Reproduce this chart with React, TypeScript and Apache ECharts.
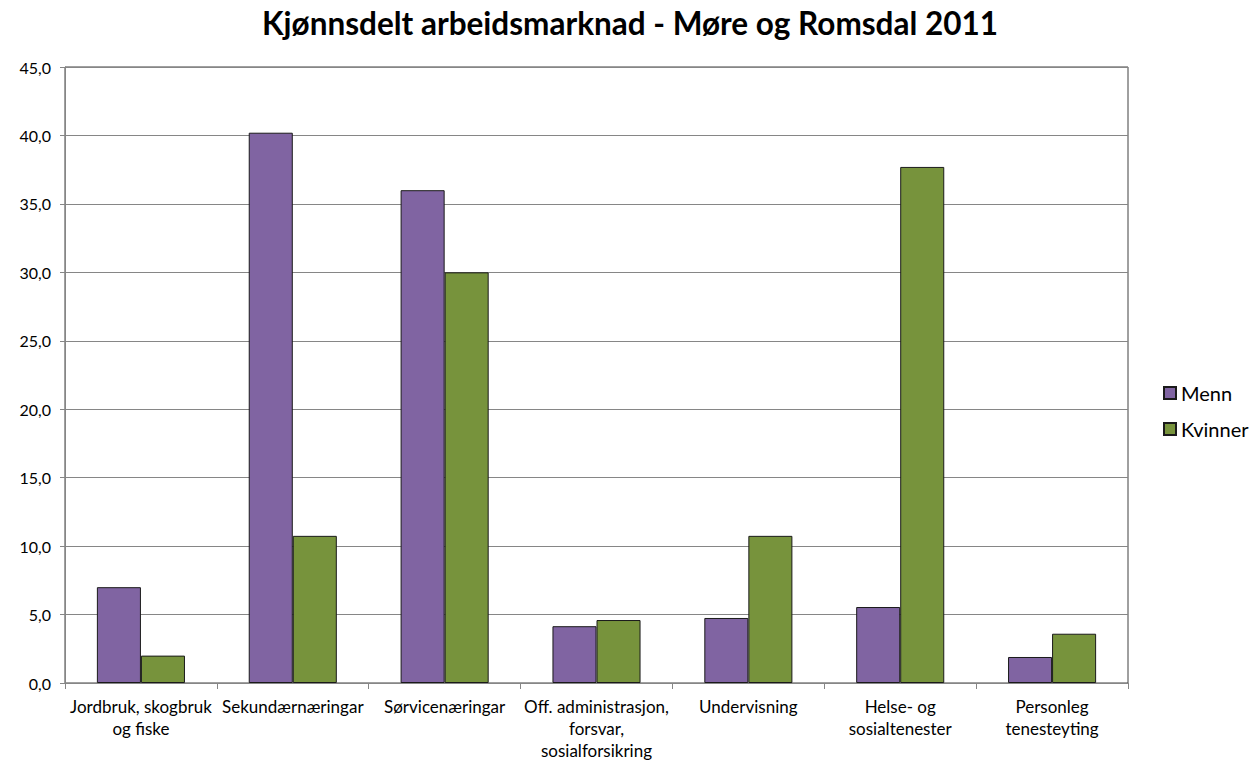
import React, { useEffect, useRef } from "react";
import * as echarts from "echarts";

const categories = [
  "Jordbruk, skogbruk\nog fiske",
  "Sekundærnæringar",
  "Sørvicenæringar",
  "Off. administrasjon,\nforsvar,\nsosialforsikring",
  "Undervisning",
  "Helse- og\nsosialtenester",
  "Personleg\ntenesteyting",
];
const menn = [7.0, 40.2, 36.0, 4.15, 4.75, 5.55, 1.9];
const kvinner = [2.0, 10.75, 30.0, 4.6, 10.75, 37.7, 3.6];
const yTicks = { min: 0, max: 45, interval: 5 };

const FONT = "Lato, 'Open Sans', sans-serif";

export default function App() {
  const ref = useRef<HTMLDivElement>(null);
  useEffect(() => {
    document.body.style.margin = "0";
    const chart = echarts.init(ref.current!, null, { renderer: "svg" });
    chart.setOption({
      animation: false,
      backgroundColor: "#ffffff",
      textStyle: { fontFamily: FONT },
      title: {
        text: "Kjønnsdelt arbeidsmarknad - Møre og Romsdal 2011",
        left: "center",
        top: 2,
        textStyle: { fontFamily: FONT, fontWeight: "bold", fontSize: 31.5, color: "#000" },
      },
      legend: {
        orient: "vertical",
        left: 1158,
        top: 378,
        itemWidth: 12,
        itemHeight: 12,
        itemGap: 16,
        icon: "rect",
        textStyle: { fontFamily: FONT, fontSize: 20, color: "#000" },
        data: ["Menn", "Kvinner"],
      },
      grid: {
        left: 65,
        right: 132,
        top: 67,
        bottom: 79,
        show: true,
        borderColor: "#404040",
        borderWidth: 1,
        containLabel: false,
      },
      xAxis: {
        type: "category",
        data: categories,
        axisLine: { lineStyle: { color: "#868686" } },
        axisTick: { show: true, length: 6, alignWithLabel: false, lineStyle: { color: "#868686" } },
        axisLabel: {
          interval: 0,
          fontSize: 17,
          lineHeight: 22,
          color: "#000",
          margin: 12,
          fontFamily: FONT,
        },
      },
      yAxis: {
        type: "value",
        min: yTicks.min,
        max: yTicks.max,
        interval: yTicks.interval,
        axisLine: { show: true, lineStyle: { color: "#868686" } },
        axisTick: { show: true, length: 5, lineStyle: { color: "#868686" } },
        splitLine: { lineStyle: { color: "#868686" } },
        axisLabel: {
          fontSize: 16,
          color: "#000",
          margin: 14,
          fontFamily: FONT,
          formatter: (v: number) => v.toFixed(1).replace(".", ","),
        },
      },
      series: [
        {
          name: "Menn",
          type: "bar",
          data: menn,
          barGap: "0%",
          barCategoryGap: "42%",
          itemStyle: { color: "#8064A2", borderColor: "#1a1a1a", borderWidth: 1 },
        },
        {
          name: "Kvinner",
          type: "bar",
          data: kvinner,
          barGap: "0%",
          barCategoryGap: "42%",
          itemStyle: { color: "#77933C", borderColor: "#1a1a1a", borderWidth: 1 },
        },
      ],
    });
    return () => chart.dispose();
  }, []);
  return <div ref={ref} style={{ width: 1260, height: 762 }} />;
}
